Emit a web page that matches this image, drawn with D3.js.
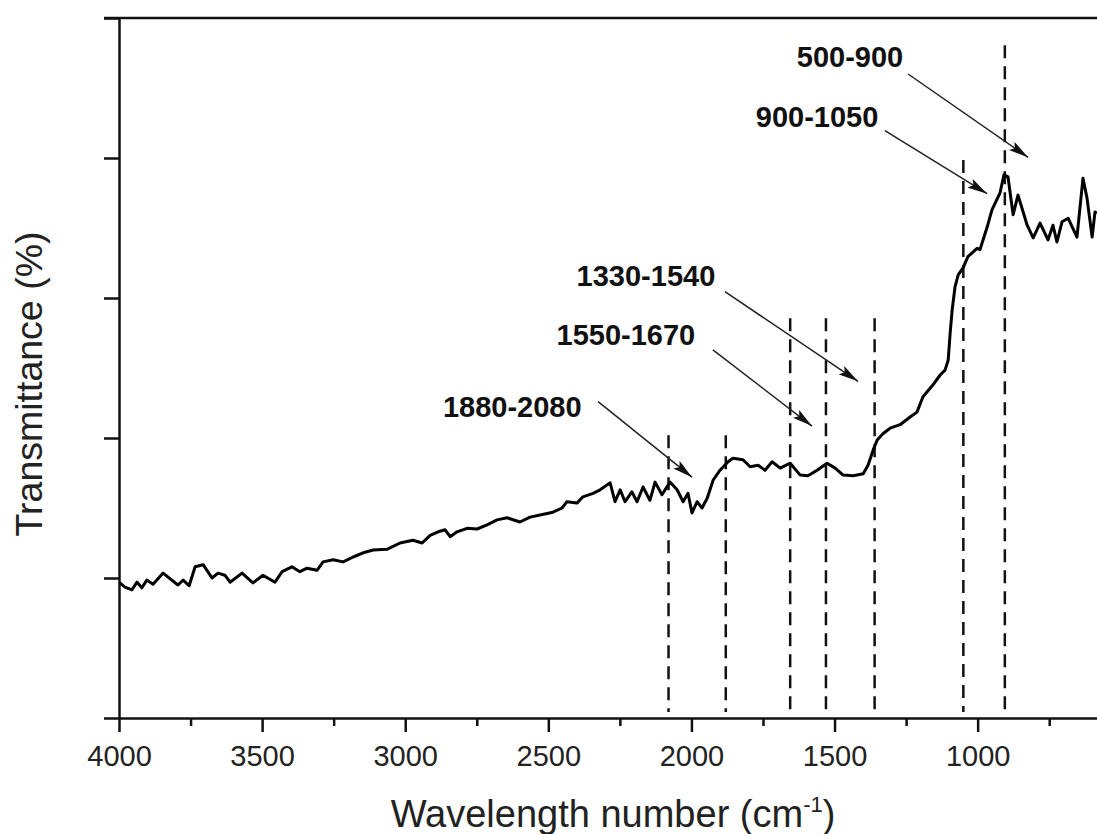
<!DOCTYPE html>
<html>
<head>
<meta charset="utf-8">
<script src="https://cdn.jsdelivr.net/npm/d3@7"></script>
<style>
  html, body { margin: 0; padding: 0; background: #fff; }
  svg { display: block; font-family: "Liberation Sans", Arial, sans-serif; }
</style>
</head>
<body>
<svg id="chart" width="1097" height="834"></svg>
<script>
// ---- data ----
const wavenumber = [3997,3979,3955,3937,3920,3903,3881,3846,3822,3794,3776,3755,3734,3706,3675,3654,3630,3612,3570,3532,3497,3455,3430,3396,3368,3343,3308,3287,3252,3217,3182,3147,3112,3064,3018,2973,2941,2913,2885,2861,2843,2819,2784,2749,2714,2679,2644,2599,2564,2529,2484,2452,2435,2400,2379,2344,2319,2284,2267,2249,2232,2208,2190,2169,2145,2127,2103,2075,2050,2029,2012,1998,1980,1963,1945,1924,1900,1872,1855,1820,1795,1767,1743,1718,1690,1655,1620,1593,1561,1526,1498,1470,1435,1400,1383,1365,1351,1331,1306,1271,1236,1212,1191,1156,1131,1114,1103,1096,1089,1079,1068,1051,1034,1002,992,967,950,922,908,894,876,859,827,806,782,754,737,723,705,684,653,632,618,600,590,583];
const transmittance = [19.3,18.7,18.3,19.4,18.6,19.7,19.1,20.7,19.9,19.0,19.7,18.9,21.6,21.9,20.0,20.7,20.4,19.4,20.7,19.3,20.4,19.4,20.9,21.6,20.9,21.4,21.1,22.3,22.6,22.3,23.0,23.6,24.0,24.1,25.0,25.4,25.0,26.1,26.6,26.9,25.9,26.6,27.1,27.0,27.6,28.3,28.6,28.0,28.7,29.0,29.4,30.0,30.9,30.7,31.6,32.1,32.6,33.6,30.9,32.6,30.9,32.3,30.9,33.0,31.1,33.7,31.9,33.7,32.6,30.9,32.1,29.3,30.9,30.0,31.4,34.0,35.4,36.6,37.1,36.9,35.9,36.1,35.4,36.6,35.7,36.4,34.7,34.6,35.4,36.4,35.7,34.7,34.6,34.9,36.1,38.3,39.7,40.6,41.4,41.9,43.0,43.7,45.9,47.6,49.0,49.7,51.1,55.0,58.3,61.6,63.3,64.3,65.9,67.1,66.9,70.1,72.6,75.0,77.6,77.3,71.9,74.7,70.4,68.6,70.7,68.3,70.4,68.0,70.9,71.4,68.7,77.1,74.3,68.7,72.3,72.1];

const xTickLabels = [4000,3500,3000,2500,2000,1500,1000];
const xMinorTicks = [3750,3250,2750,2250,1750,1250,750];
const yTicks = [0,20,40,60,80,100];

// dashed marker lines: position and top value
const markerPos = [2080,1880,1655,1530,1360,1050,905];
const markerTop = [40.4,40.4,57.1,57.1,57.1,79.7,96.1];

// annotations: label, text centre (wavenumber, value), arrow start and end
const annLabels = ["500-900","900-1050","1330-1540","1550-1670","1880-2080"];
const annTextX = [1446,1561,2159,2229,2626];
const annTextY = [93.1,84.6,61.9,53.4,43.2];
const annFromX = [1243,1324,1883,1925,2326];
const annFromY = [92.0,83.9,60.9,52.6,45.2];
const annToX   = [824,967,1418,1579,1998];
const annToY   = [80.1,74.9,48.1,41.7,34.4];

(function () {
const svg = d3.select("#chart");
const W = 1097;
const mLeft = 119, mTop = 18, mBottom = 718;

const x = d3.scaleLinear().domain([4000, 583]).range([mLeft, W]);
const y = d3.scaleLinear().domain([0, 100]).range([mBottom, mTop]);

svg.append("defs").append("marker")
  .attr("id", "arrow")
  .attr("viewBox", "0 0 20 10")
  .attr("refX", 20).attr("refY", 5)
  .attr("markerWidth", 20).attr("markerHeight", 10)
  .attr("markerUnits", "userSpaceOnUse")
  .attr("orient", "auto")
  .append("path").attr("d", "M0,0 L20,5 L0,10 L4,5 Z").attr("fill", "#111");

// top border
svg.append("line")
  .attr("x1", mLeft - 15).attr("x2", W)
  .attr("y1", y(100)).attr("y2", y(100))
  .attr("stroke", "#111").attr("stroke-width", 2.5);

// x axis
const xAxis = svg.append("g")
  .attr("transform", `translate(0,${mBottom})`)
  .call(d3.axisBottom(x).tickValues(xTickLabels).tickSize(14).tickSizeOuter(0)
        .tickFormat(d3.format("d")));
xAxis.select(".domain").attr("stroke", "#111").attr("stroke-width", 2.5);
xAxis.selectAll(".tick line").attr("stroke", "#111").attr("stroke-width", 2.5);
xAxis.selectAll(".tick text").attr("font-size", 29).attr("fill", "#222")
  .attr("dy", "1.07em");

const xMinor = svg.append("g")
  .attr("transform", `translate(0,${mBottom})`)
  .call(d3.axisBottom(x).tickValues(xMinorTicks).tickSize(8).tickSizeOuter(0).tickFormat(""));
xMinor.select(".domain").remove();
xMinor.selectAll(".tick line").attr("stroke", "#111").attr("stroke-width", 2.5);

// y axis
const yAxis = svg.append("g")
  .attr("transform", `translate(${mLeft},0)`)
  .call(d3.axisLeft(y).tickValues(yTicks).tickSize(15).tickSizeOuter(0).tickFormat(""));
yAxis.select(".domain").attr("stroke", "#111").attr("stroke-width", 2.5);
yAxis.selectAll(".tick line").attr("stroke", "#111").attr("stroke-width", 2.5);

// axis titles
const xt = svg.append("text")
  .attr("x", 613).attr("y", 827)
  .attr("text-anchor", "middle").attr("font-size", 38).attr("fill", "#222");
xt.append("tspan").text("Wavelength number (cm");
xt.append("tspan").attr("font-size", 22).attr("dy", -15).text("-1");
xt.append("tspan").attr("dy", 15).text(")");

svg.append("text")
  .attr("transform", "translate(42,384) rotate(-90)")
  .attr("text-anchor", "middle").attr("font-size", 37.5).attr("fill", "#222")
  .text("Transmittance (%)");

// dashed lines
svg.append("g").selectAll("line").data(markerPos).join("line")
  .attr("x1", d => x(d)).attr("x2", d => x(d))
  .attr("y1", (d, i) => y(markerTop[i])).attr("y2", y(0) - 6)
  .attr("stroke", "#111").attr("stroke-width", 2.5)
  .attr("stroke-dasharray", "13,8");

// spectrum
const pts = wavenumber.map((w, i) => [w, transmittance[i]]);
svg.append("path").datum(pts)
  .attr("fill", "none").attr("stroke", "#000").attr("stroke-width", 3)
  .attr("stroke-linejoin", "round")
  .attr("d", d3.line().x(d => x(d[0])).y(d => y(d[1])));

// annotations
const ann = svg.append("g");
annLabels.forEach((lab, i) => {
  ann.append("line")
    .attr("x1", x(annFromX[i])).attr("y1", y(annFromY[i]))
    .attr("x2", x(annToX[i])).attr("y2", y(annToY[i]))
    .attr("stroke", "#222").attr("stroke-width", 1.5)
    .attr("marker-end", "url(#arrow)");
  ann.append("text")
    .attr("x", x(annTextX[i])).attr("y", y(annTextY[i]) + 1)
    .attr("text-anchor", "middle").attr("font-size", 29).attr("font-weight", "bold")
    .attr("fill", "#111").text(lab);
});
})();
</script>
</body>
</html>
